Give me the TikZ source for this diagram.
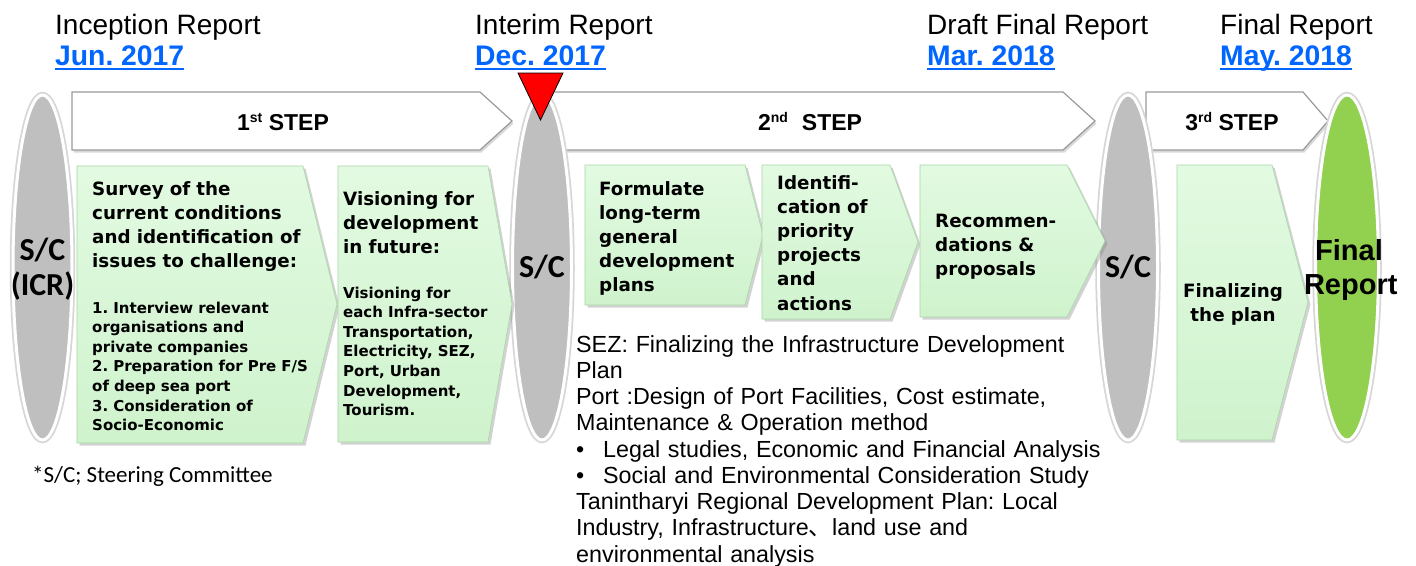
\documentclass[tikz,border=0pt]{standalone}
\usepackage{fontspec}
\setmainfont{Liberation Sans}
\newfontfamily\dvs{DejaVu Sans}
\newfontfamily\carl{Carlito}
\newfontfamily\cjkf{Noto Sans CJK JP}
\usetikzlibrary{shapes.geometric,shadows,calc}
\definecolor{datecol}{HTML}{0066FF}
\definecolor{boxgreen}{HTML}{CFF3CD}
\definecolor{boxgreentop}{HTML}{E2FAE1}
\definecolor{boxedge}{HTML}{A8D6A5}
\definecolor{scgray}{HTML}{BFBFBF}
\definecolor{fingreen}{HTML}{92D050}
\definecolor{stepedge}{HTML}{9A9A9A}
\frenchspacing
\begin{document}
\begin{tikzpicture}[x=1pt,y=-1pt,
  stepshape/.style={fill=white, draw=stepedge, line width=1.2pt,
    drop shadow={shadow xshift=1.5pt, shadow yshift=-2.5pt, opacity=0.3}},
  greenbox/.style={top color=boxgreentop, bottom color=boxgreen, draw=boxedge, line width=0.6pt,
    drop shadow={shadow xshift=2.5pt, shadow yshift=-2.5pt, opacity=0.35}},
  scell/.style={ellipse, minimum width=59pt, minimum height=345pt, inner sep=0pt,
    fill=scgray, draw=white, line width=3pt, preaction={draw=black!16, line width=6.5pt}},
  hdr/.style={anchor=base west, inner sep=0pt, font=\fontsize{28}{30}\selectfont},
  datelbl/.style={anchor=base west, inner sep=0pt, text=datecol, font=\fontsize{28.3}{30}\selectfont\bfseries},
  dateline/.style={datecol, line width=1.8pt},
  steplbl/.style={anchor=base, inner sep=0pt, font=\fontsize{23}{26}\selectfont\bfseries},
  bigtxt/.style={anchor=base west, inner sep=0pt, text width=240pt, align=left,
    font=\dvs\bfseries\fontsize{18.3}{24.2}\selectfont},
  smalltxt/.style={anchor=base west, inner sep=0pt, text width=240pt, align=left,
    font=\dvs\bfseries\fontsize{15}{19.6}\selectfont},
  sclbl/.style={anchor=base, inner sep=0pt, text width=90pt, align=center,
    font=\carl\bfseries\fontsize{32}{35}\selectfont},
  notetxt/.style={anchor=base west, inner sep=0pt, text width=600pt, align=left,
    font=\fontsize{23.3}{26.25}\selectfont}
]
\useasboundingbox[fill=white] (0,0) rectangle (1416,565);

% header texts
\node[hdr] (h1) at (55,34) {Inception Report};
\node[datelbl] (d1) at (55,65) {Jun. 2017};
\node[hdr] (h2) at (475,34) {Interim Report};
\node[datelbl] (d2) at (475,65) {Dec. 2017};
\node[hdr] (h3) at (927,34) {Draft Final Report};
\node[datelbl] (d3) at (927,65) {Mar. 2018};
\node[hdr] (h4) at (1220,34) {Final Report};
\node[datelbl] (d4) at (1220,65) {May. 2018};
\foreach \d in {d1,d2,d3,d4}{
  \draw[dateline] ([yshift=-4pt]\d.base west) -- ([yshift=-4pt]\d.base east);
}

% step arrows
\path[stepshape] (72,92) -- (480,92) -- (512,121) -- (480,150) -- (72,150) -- cycle;
\path[stepshape] (550,92) -- (1063,92) -- (1095,121) -- (1063,150) -- (550,150) -- cycle;
\path[stepshape] (1146,92) -- (1303,92) -- (1328,121) -- (1303,150) -- (1146,150) -- cycle;
\node[steplbl] (s1) at (283,130) {1\raisebox{8pt}{\fontsize{14}{14}\selectfont st} STEP};
\node[steplbl] (s2) at (810,130) {2\raisebox{8pt}{\fontsize{14}{14}\selectfont nd}\hspace{14pt}STEP};
\node[steplbl] (s3) at (1232,130) {3\raisebox{8pt}{\fontsize{14}{14}\selectfont rd} STEP};

% ellipses
\node[scell] (e1) at (42.5,267.5) {};
\node[scell] (e2) at (542,267.5) {};
\node[scell] (e3) at (1128,267.5) {};
\node[scell, fill=fingreen, minimum width=63pt] (e4) at (1347,267.5) {};

% red marker
\draw[fill=red, draw=black, line width=0.8pt] (518,73) -- (563,73) -- (540.5,120) -- cycle;

% green process boxes
\path[greenbox] (77,166) -- (303,166) -- (337,304) -- (303,443) -- (77,443) -- cycle;
\path[greenbox] (338,166) -- (488,166) -- (512,304) -- (488,442) -- (338,442) -- cycle;
\path[greenbox] (585,165) -- (745,165) -- (763,235) -- (745,305) -- (585,305) -- cycle;
\path[greenbox] (762,165) -- (890,165) -- (918,242) -- (890,319) -- (762,319) -- cycle;
\path[greenbox] (920,165) -- (1067,165) -- (1105,241) -- (1067,317) -- (920,317) -- cycle;
\path[greenbox] (1177,165) -- (1272,165) -- (1308,302) -- (1272,440) -- (1177,440) -- cycle;

% box texts
\node[bigtxt] (b1a) at (92,195) {Survey of the\\current conditions\\and identification of\\issues to challenge:};
\node[smalltxt] (b1b) at (92,313) {1. Interview relevant\\organisations and\\private companies\\2. Preparation for Pre F/S\\of deep sea port\\3. Consideration of\\Socio-Economic};
\node[bigtxt] (b2a) at (343,205) {Visioning for\\development\\in future:};
\node[smalltxt] (b2b) at (343,298) {Visioning for\\each Infra-sector\\Transportation,\\Electricity, SEZ,\\Port, Urban\\Development,\\Tourism.};
\node[bigtxt] (b3) at (599,195) {Formulate\\long-term\\general\\development\\plans};
\node[bigtxt] (b4) at (777,189) {Identifi-\\cation of\\priority\\projects\\and\\actions};
\node[bigtxt] (b5) at (935,227) {Recommen-\\dations \&\\proposals};
\node[bigtxt, anchor=base, text width=130pt, align=center] (b6) at (1233,297) {Finalizing\\the plan};

% ellipse labels
\node[sclbl] (l1) at (42.5,260) {S/C\\(ICR)};
\node[sclbl] (l2) at (542,277) {S/C};
\node[sclbl] (l3) at (1128,277) {S/C};
\node[sclbl, font=\bfseries\fontsize{29}{34}\selectfont] (l4) at (1349,260) {Final\\Report};

% notes
\node[anchor=base west, inner sep=0pt, font=\carl\fontsize{23}{26}\selectfont] (fn) at (32,482) {*S/C; Steering Committee};
\node[notetxt] (nt) at (576,352) {SEZ: Finalizing the Infrastructure\ Development\\
Plan\\
Port :Design of Port Facilities, Cost estimate,\\
Maintenance \& Operation\ method\\
\makebox[27pt][l]{•}Legal studies, Economic and Financial Analysis\\
\makebox[27pt][l]{•}Social and Environmental Consideration Study\\
Tanintharyi Regional Development Plan: Local\\
Industry, Infrastructure{\cjkf 、}land use and\\
environmental analysis};
\end{tikzpicture}
\end{document}
